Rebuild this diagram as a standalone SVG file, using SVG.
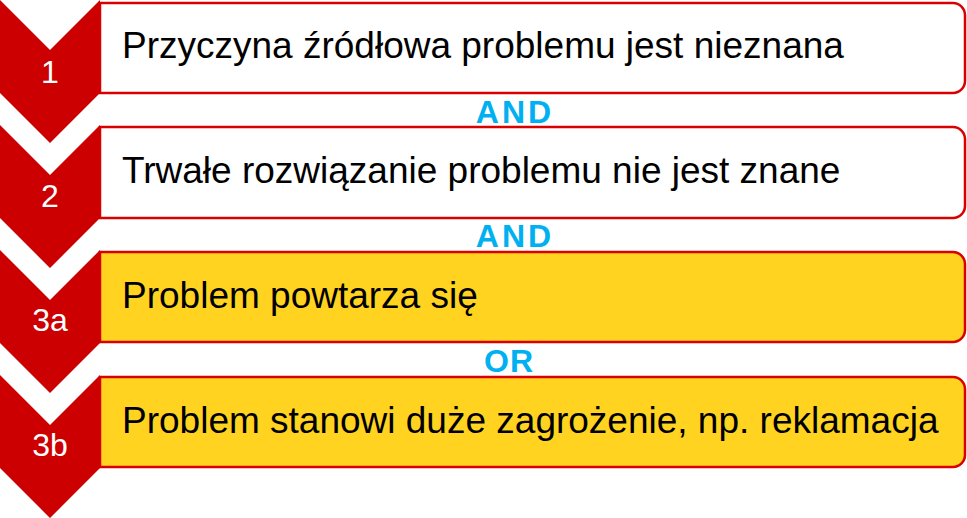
<svg xmlns="http://www.w3.org/2000/svg" width="967" height="518" viewBox="0 0 967 518">
<style>
.chev{fill:#CC0000}
.box{stroke:#D90000;stroke-width:2.5}
.w{fill:#FFFFFF}
.y{fill:#FFD31F}
.num{font-family:"Liberation Sans",Arial,sans-serif;font-size:32px;fill:#FFFFFF;text-anchor:middle}
.txt{font-family:"Liberation Sans",Arial,sans-serif;font-size:37px;fill:#000000}
.op{font-family:"Liberation Sans",Arial,sans-serif;font-size:32px;font-weight:bold;fill:#00B0F0;text-anchor:middle}
</style>
<rect width="967" height="518" fill="#FFFFFF"/>
<g id="step1">
<path class="box w" d="M100,3 H953 A12,12 0 0 1 965,15 V81 A12,12 0 0 1 953,93 H100 Z"/>
<path class="chev" d="M0,0 L50,50 L100,0 L100,93 L50,143 L0,93 Z"/>
<text class="num" x="50" y="83">1</text>
<text class="txt" x="122" y="58">Przyczyna źródłowa problemu jest nieznana</text>
</g>
<g id="step2">
<path class="box w" d="M100,127 H953 A12,12 0 0 1 965,139 V206 A12,12 0 0 1 953,218 H100 Z"/>
<path class="chev" d="M0,125 L50,175 L100,125 L100,218 L50,268 L0,218 Z"/>
<text class="num" x="50" y="207">2</text>
<text class="txt" x="122" y="183">Trwałe rozwiązanie problemu nie jest znane</text>
</g>
<g id="step3a">
<path class="box y" d="M100,252 H953 A12,12 0 0 1 965,264 V330 A12,12 0 0 1 953,342 H100 Z"/>
<path class="chev" d="M0,250 L50,300 L100,250 L100,343 L50,393 L0,343 Z"/>
<text class="num" x="50" y="331">3a</text>
<text class="txt" x="122" y="308">Problem powtarza się</text>
</g>
<g id="step3b">
<path class="box y" d="M100,377 H953 A12,12 0 0 1 965,389 V455 A12,12 0 0 1 953,467 H100 Z"/>
<path class="chev" d="M0,375 L50,425 L100,375 L100,468 L50,518 L0,468 Z"/>
<text class="num" x="50" y="456">3b</text>
<text class="txt" x="122" y="433">Problem stanowi duże zagrożenie, np. reklamacja</text>
</g>
<g id="connectors">
<text class="op" x="515" y="123" letter-spacing="3">AND</text>
<text class="op" x="515" y="247" letter-spacing="3">AND</text>
<text class="op" x="509" y="372" letter-spacing="1">OR</text>
</g>
</svg>
